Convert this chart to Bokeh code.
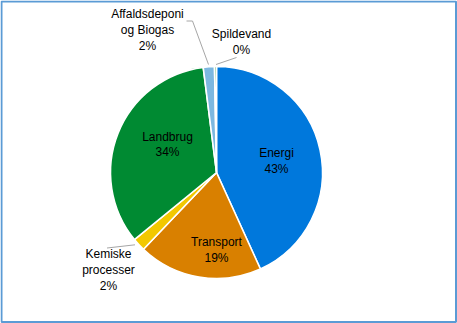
import math
from bokeh.plotting import figure
from bokeh.models import Range1d, ColumnDataSource
from bokeh.core.properties import value
from bokeh.embed import file_html
from bokeh.resources import INLINE

# ---- data ----
categories = ["Energi", "Transport", "Kemiske\nprocesser", "Landbrug", "Affaldsdeponi\nog Biogas", "Spildevand"]
shares = [43.2, 18.9, 2.0, 33.9, 1.7, 0.3]
pct_labels = ["43%", "19%", "2%", "34%", "2%", "0%"]
colors = ["#0078DC", "#D98000", "#F2C800", "#008A32", "#7DB8E0", "#2E9E3C"]

W, H = 457, 323
CX, CY, R = 216, 172, 106  # pixel coords (y down)

def Y(py):
    return H - py

p = figure(width=W, height=H, output_backend="svg", toolbar_location=None,
           x_range=Range1d(0, W), y_range=Range1d(0, H), min_border=0,
           background_fill_color="white", border_fill_color="white")
p.axis.visible = False
p.grid.visible = False
p.outline_line_color = None

total = sum(shares)
starts, ends = [], []
cum = 0.0
for s in shares:
    starts.append(math.pi / 2 - 2 * math.pi * cum / total)
    cum += s
    ends.append(math.pi / 2 - 2 * math.pi * cum / total)

src = ColumnDataSource(dict(x=[CX] * len(shares), y=[Y(CY)] * len(shares),
                            start=starts, end=ends, color=colors))
p.wedge(x="x", y="y", radius=R, start_angle="start", end_angle="end",
        direction="clock", fill_color="color", line_color="white",
        line_width=1.6, source=src)

# leader lines (pixel coords)
p.line([186, 192, 208], [Y(20.5), Y(20.5), Y(64)], line_color="#A6A6A6", line_width=1)
p.line([215.5, 236], [Y(64), Y(57)], line_color="#A6A6A6", line_width=1)
p.line([106.5, 134.5], [Y(247.5), Y(244.3)], line_color="#A6A6A6", line_width=1)

# label placement (pixel centers)
label_x = [276, 216, 108, 167, 147, 241]
label_y = [160.5, 249.5, 269.5, 144, 29.5, 41.5]
texts = [c + "\n" + pc for c, pc in zip(categories, pct_labels)]
lsrc = ColumnDataSource(dict(x=label_x, y=[Y(v) for v in label_y], t=texts))
p.text(x="x", y="y", text="t", source=lsrc, text_align="center",
       text_baseline="middle", text_font=value("Liberation Sans"),
       text_font_size="12px", text_color="black", text_line_height=1.12)

# chart border
p.quad(left=[1], right=[455.5], bottom=[Y(321.5)], top=[Y(1)],
       fill_color=None, line_color="#5B9BD5", line_width=2)

open("out.html", "w").write(file_html(p, INLINE))
